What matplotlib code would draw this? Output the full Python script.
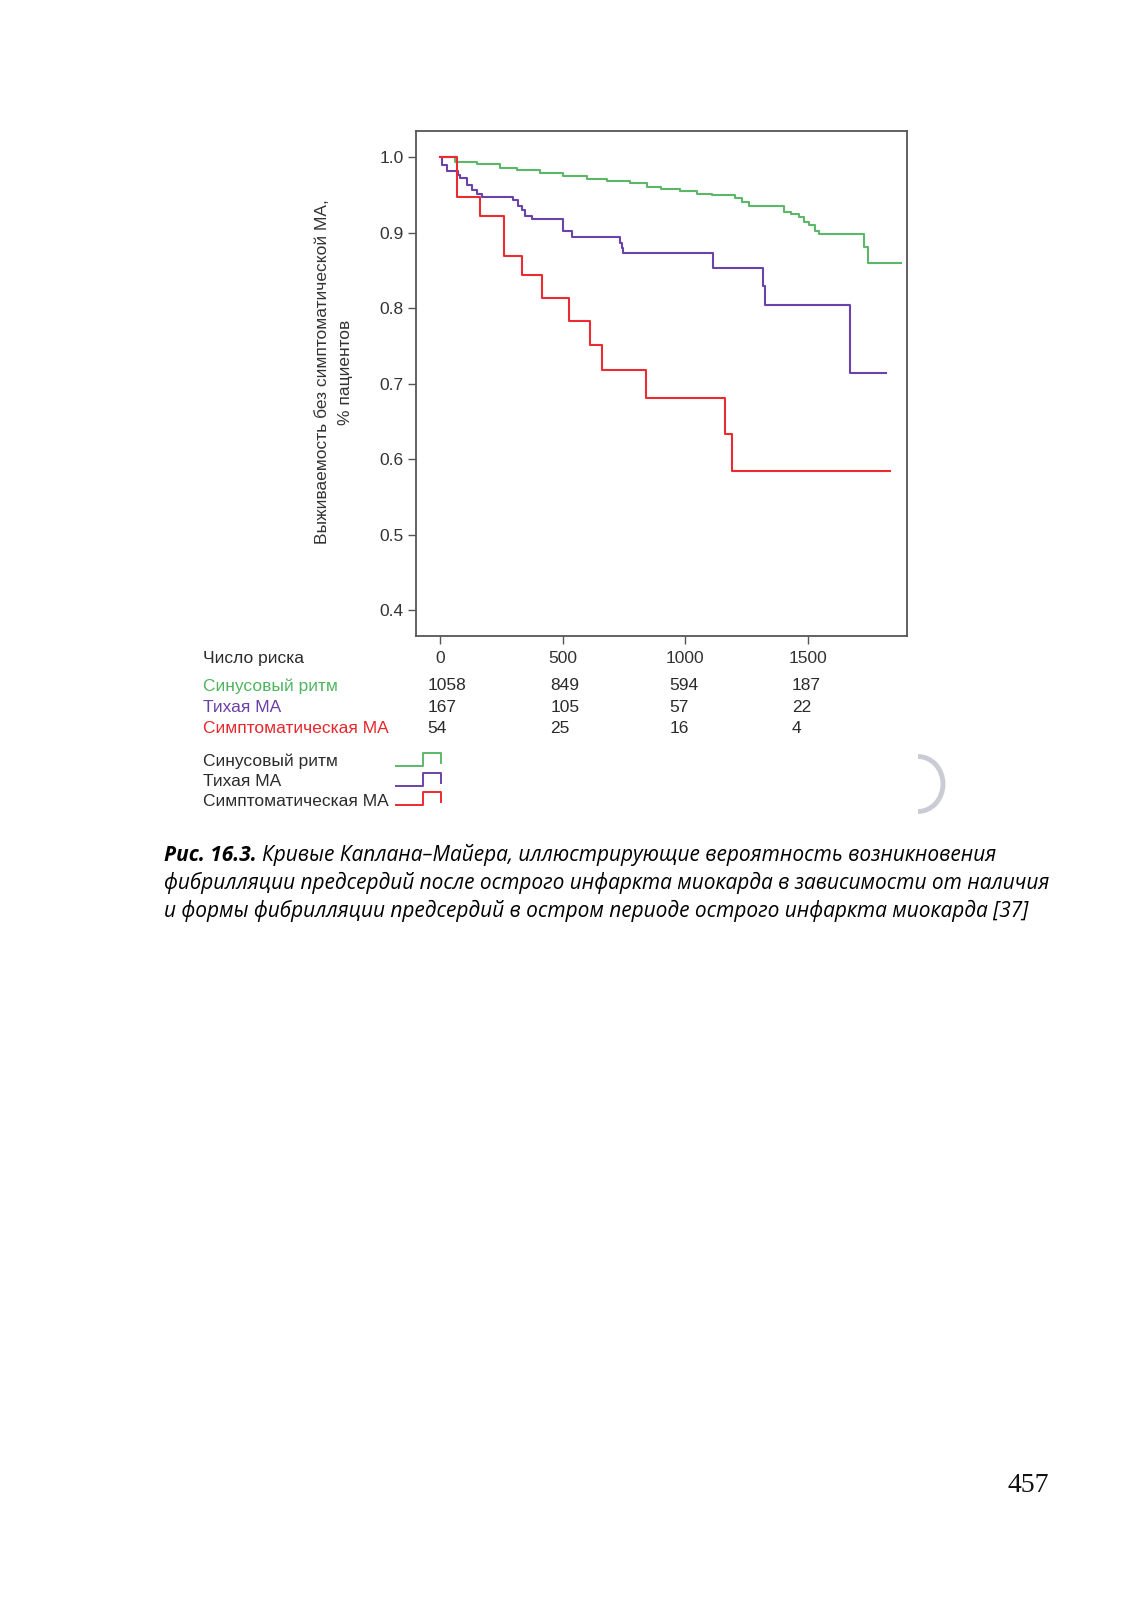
import matplotlib
matplotlib.use("Agg")
import matplotlib.pyplot as plt
from matplotlib.lines import Line2D
from matplotlib.patches import Arc
from matplotlib.transforms import blended_transform_factory

plt.rcParams["font.family"] = ["Liberation Sans", "DejaVu Sans"]

# --- data ---
groups = ["Синусовый ритм", "Тихая МА", "Симптоматическая МА"]

sinus_t = [0, 60, 150, 245, 313, 408, 503, 598, 680, 775, 843, 900, 980, 1050,
           1110, 1205, 1230, 1262, 1405, 1430, 1463, 1485, 1505, 1530, 1547,
           1731, 1747, 1880]
sinus_s = [1.0, 0.994, 0.991, 0.986, 0.983, 0.979, 0.975, 0.971, 0.969, 0.966,
           0.961, 0.958, 0.955, 0.952, 0.950, 0.946, 0.941, 0.935, 0.928, 0.925,
           0.921, 0.915, 0.910, 0.903, 0.898, 0.881, 0.860, 0.860]

silent_t = [0, 8, 27, 75, 82, 109, 129, 150, 170, 299, 319, 333, 347, 374, 503,
            537, 734, 741, 748, 1112, 1318, 1326, 1672, 1819]
silent_s = [1.0, 0.990, 0.982, 0.977, 0.973, 0.964, 0.957, 0.951, 0.947, 0.943,
            0.936, 0.930, 0.923, 0.919, 0.903, 0.894, 0.886, 0.880, 0.873, 0.854,
            0.830, 0.805, 0.715, 0.715]

sympt_t = [0, 70, 165, 263, 335, 417, 528, 612, 662, 840, 1162, 1190, 1836]
sympt_s = [1.0, 0.947, 0.922, 0.870, 0.844, 0.814, 0.783, 0.751, 0.719, 0.681,
           0.634, 0.584, 0.584]

x_ticks = [0, 500, 1000, 1500]
y_ticks = [0.4, 0.5, 0.6, 0.7, 0.8, 0.9, 1.0]
at_risk = [
    ["1058", "849", "594", "187"],
    ["167", "105", "57", "22"],
    ["54", "25", "16", "4"],
]

colors = ["#5cb868", "#6a43a8", "#ec2b30"]
text_colors = ["#4fb45e", "#6a3fa8", "#e8262b"]
dark = "#2b2b2b"

W, H = 1132, 1600
fig = plt.figure(figsize=(W / 100, H / 100), dpi=100)


def fx(px):
    return px / W


def fy(py):
    return 1 - py / H


ax = fig.add_axes([fx(416), fy(636), fx(907) - fx(416), fy(131) - fy(636)])

curves = [(sinus_t, sinus_s), (silent_t, silent_s), (sympt_t, sympt_s)]
for (t, s), c in zip(curves, colors):
    ax.step(t, s, where="post", color=c, lw=1.5)

ax.set_xlim(-98, 1905)
ax.set_ylim(0.366, 1.035)
ax.set_xticks(x_ticks)
ax.set_xticklabels([str(v) for v in x_ticks])
ax.set_yticks(y_ticks)
ax.set_yticklabels(["%.1f" % v for v in y_ticks])
ax.tick_params(direction="out", length=6, width=1, color="#555",
               labelsize=12.5, labelcolor="#333")
ax.tick_params(axis="x", pad=5)
ax.tick_params(axis="y", pad=3)
for sp in ax.spines.values():
    sp.set_color("#555")
    sp.set_linewidth(1.3)

fig.text(fx(334), fy(372), "Выживаемость без симптоматической МА,\n% пациентов",
         rotation=90, ha="center", va="center", fontsize=12.5, color="#333",
         multialignment="center", linespacing=1.7)

# number at risk table
fig.text(fx(203), fy(659), "Число риска", ha="left", va="center",
         fontsize=12.5, color=dark)
bt = blended_transform_factory(ax.transData, fig.transFigure)
col_x = [-50, 450, 935, 1435]
row_y = [686, 707, 728]
for i, g in enumerate(groups):
    fig.text(fx(203), fy(row_y[i]), g, ha="left", va="center", fontsize=12.5,
             color=text_colors[i])
    for j, v in enumerate(at_risk[i]):
        ax.text(col_x[j], fy(row_y[i]), v, transform=bt, ha="left", va="center",
                fontsize=12.5, color=dark)

# legend with step icons
leg_y = [761, 782, 802]
icon_base = [766, 786, 805]
for i, g in enumerate(groups):
    fig.text(fx(203), fy(leg_y[i]), g, ha="left", va="center", fontsize=12.5,
             color=dark)
    b = icon_base[i]
    xs = [fx(396), fx(423), fx(423), fx(441), fx(441)]
    ys = [fy(b), fy(b), fy(b - 13), fy(b - 13), fy(b - 3)]
    fig.add_artist(Line2D(xs, ys, transform=fig.transFigure, color=colors[i],
                          lw=1.4))

# scan artefact (grey bracket at right)
fig.add_artist(Arc((fx(918), fy(784)), 50 / W, 55 / H, theta1=-90, theta2=90,
                   transform=fig.transFigure, color="#c9ccd4", lw=3.5))

# caption
cap_font = ["Open Sans", "DejaVu Sans"]
cap_size = 15.0
fig.canvas.draw()
r = fig.canvas.get_renderer()
t0 = fig.text(fx(164), fy(855), "Рис. 16.3.", ha="left", va="center",
              fontsize=cap_size, family=cap_font, style="italic",
              weight="bold", color="#000")
bb = t0.get_window_extent(renderer=r)
fig.text(bb.x1 / W + 5 / W, fy(855),
         "Кривые Каплана–Майера, иллюстрирующие вероятность возникновения",
         ha="left", va="center", fontsize=cap_size, family=cap_font,
         style="italic", color="#000")
fig.text(fx(164), fy(883),
         "фибрилляции предсердий после острого инфаркта миокарда в зависимости от наличия",
         ha="left", va="center", fontsize=cap_size, family=cap_font,
         style="italic", color="#000")
fig.text(fx(164), fy(911),
         "и формы фибрилляции предсердий в остром периоде острого инфаркта миокарда [37]",
         ha="left", va="center", fontsize=cap_size, family=cap_font,
         style="italic", color="#000")

fig.text(fx(1028), fy(1486), "457", ha="center", va="center", fontsize=20,
         family=["Liberation Serif", "DejaVu Serif"], color="#111")

fig.savefig("out.png", dpi=100)
